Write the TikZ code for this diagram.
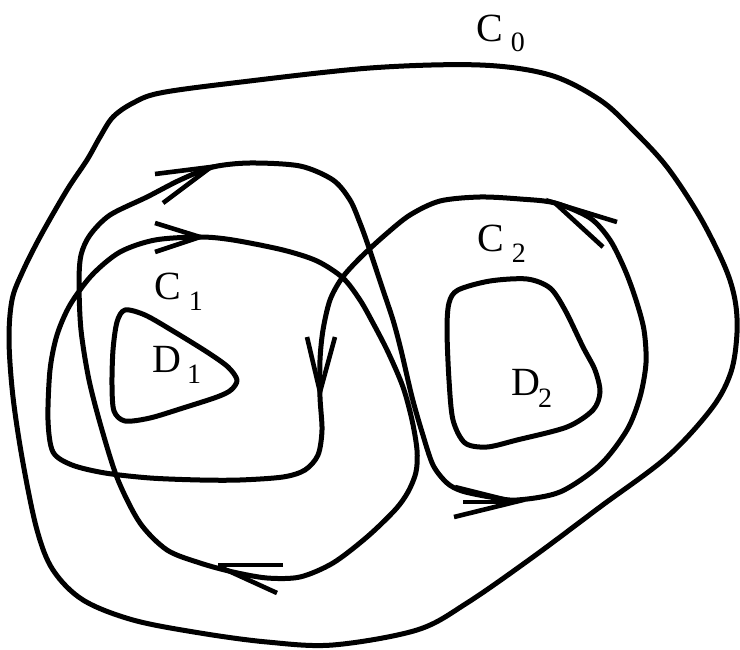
\documentclass[tikz,border=0pt]{standalone}
\usepackage{fontspec}
\setmainfont{Liberation Serif}
\newcommand{\subsz}{\fontsize{28}{28}\selectfont}
\begin{document}
\begin{tikzpicture}[x=1pt,y=-1pt,
  curve/.style={line width=5pt, line join=round},
  barb/.style={line width=4.6pt, line cap=butt, line join=miter},
  lbl/.style={anchor=base west, inner sep=0pt, font=\fontsize{40}{40}\selectfont}]
\useasboundingbox (0,0) rectangle (740,650);
% outer curve C0
\draw[curve] plot[smooth cycle, tension=0.55] coordinates {
 (370,68) (480,65) (550,75) (600,100) (633,130) (667,167) (700,217) (725,267)
 (735,300) (737,333) (731,372) (712,408) (667,457) (600,507) (533,557)
 (467,603) (417,630) (333,645) (267,642) (200,633) (133,620) (83,600) (53,570)
 (37,530) (23,463) (13,397) (9,340) (12,300) (22,273) (40,237) (67,190) (87,160)
 (100,137) (113,117) (133,103) (160,93) (233,83)};
% D1
\draw[curve] plot[smooth cycle, tension=0.5] coordinates {
 (125,310) (145,315) (173,331) (207,352) (228,367) (237,380) (231,390) (217,397)
 (183,408) (150,418) (125,421) (114,411) (112,385) (113,350) (117,322)};
% D2
\draw[curve] plot[smooth cycle, tension=0.5] coordinates {
 (458,290) (490,281) (527,279) (550,288) (565,310) (583,347) (595,370) (600,392)
 (593,410) (567,427) (517,440) (487,447) (465,443) (453,420) (449,380) (447,330) (449,303)};
% the long closed path C1 / C2
\draw[curve] plot[smooth cycle, tension=0.5] coordinates {
 (330,300) (323,330) (320,360) (320,397) (322,430) (318,455) (305,470) (283,477)
 (240,480) (200,480) (150,478) (105,473) (72,465) (53,452) (48,420) (50,370)
 (57,335) (70,305) (92,275) (120,252) (155,240) (200,237) (233,240) (283,250)
 (317,261) (343,278) (360,300) (373,323) (388,352) (403,387) (412,420) (417,450)
 (416,472) (408,492) (395,510) (367,537) (333,563) (300,577) (267,578) (233,572)
 (200,563) (167,550) (140,523) (118,480) (102,430) (89,380) (81,330) (79,283)
 (81,255) (90,235) (110,215) (147,197) (180,180) (213,167) (250,163) (300,166)
 (333,180) (350,200) (360,223) (368,245) (383,290) (393,320) (401,350) (412,397)
 (422,432) (433,465) (447,483) (462,491) (490,497) (517,500) (560,492) (600,465)
 (627,430) (640,397) (646,363) (644,330) (636,300) (625,270) (610,240) (590,218)
 (555,203) (520,199) (480,197) (440,201) (410,215) (385,235) (360,258) (342,278)};
% arrowheads
\draw[barb] (307,337) -- (320,392) -- (335,337);
\draw[barb] (155,223) -- (200,237) -- (155,252);
\draw[barb] (155,174) -- (211,167) -- (163,203);
\draw[barb] (455,487) -- (515,502) -- (454,517);
\draw[barb] (463,502) -- (510,502);
\draw[barb] (283,565) -- (218,565);
\draw[barb] (220,567) -- (277,593);
\draw[barb] (617,222) -- (555,203) -- (603,247);
% labels
\node[lbl] (c0) at (476,42) {C\hspace{8pt}\raisebox{-10pt}{\subsz 0}};
\node[lbl] (c1) at (154,300) {C\hspace{8pt}\raisebox{-10pt}{\subsz 1}};
\node[lbl] (c2) at (477,252) {C\hspace{8pt}\raisebox{-11pt}{\subsz 2}};
\node[lbl] (d1) at (152,372) {D\hspace{6pt}\raisebox{-11pt}{\subsz 1}};
\node[lbl] (d2) at (511,395) {D\hspace{-2pt}\raisebox{-13pt}{\subsz 2}};
\end{tikzpicture}
\end{document}
